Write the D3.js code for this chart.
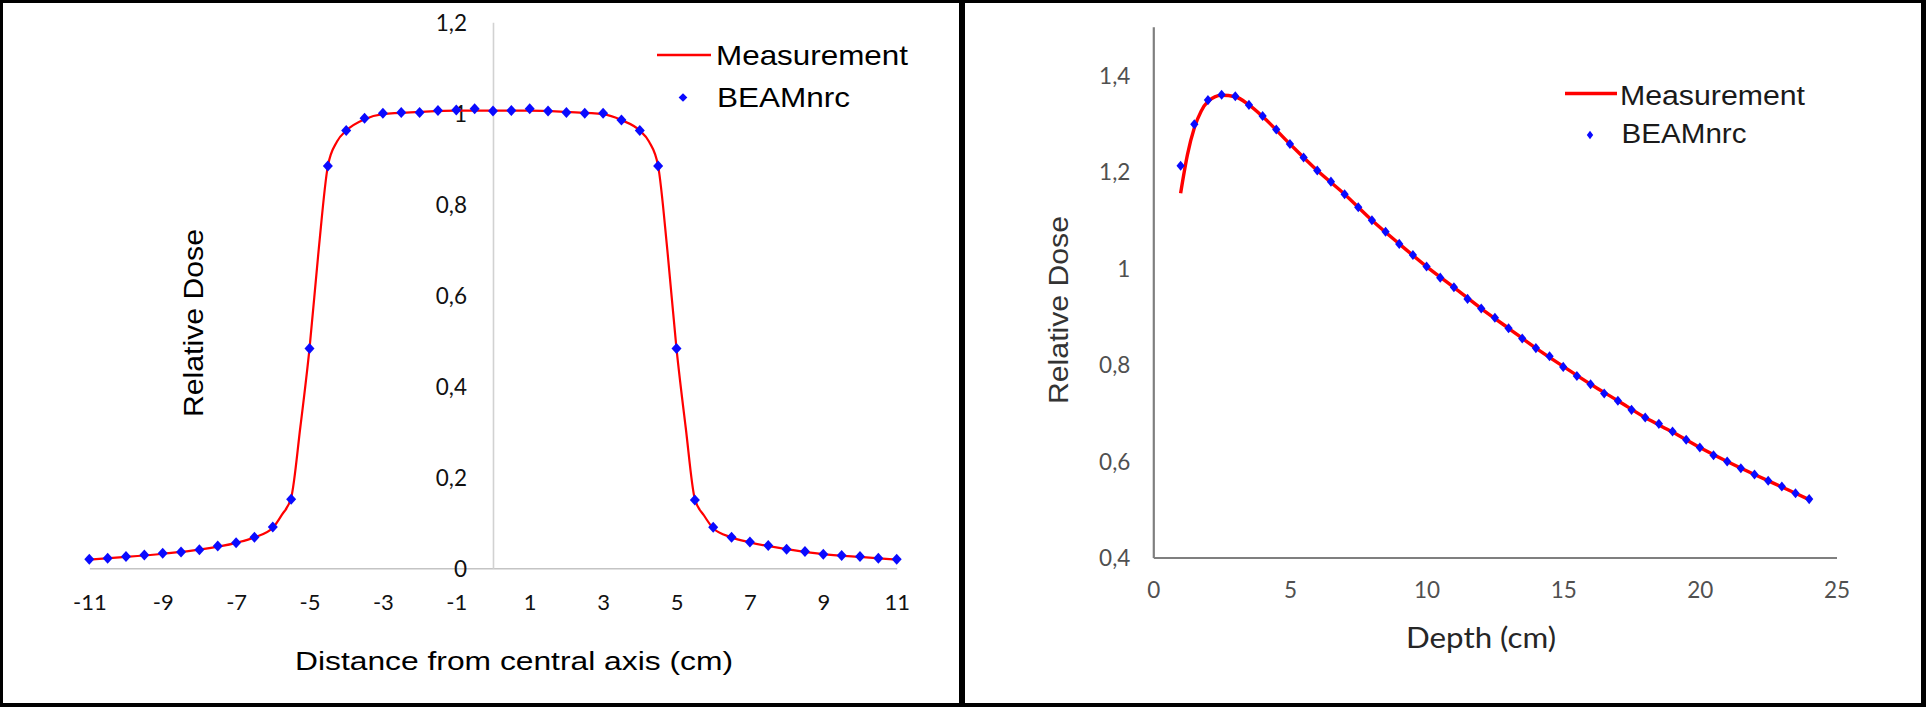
<!DOCTYPE html>
<html><head><meta charset="utf-8">
<script src="https://cdn.jsdelivr.net/npm/d3@7"></script>
<style>html,body{margin:0;padding:0;background:#fff;} svg{display:block;}</style>
</head><body>
<script>
// ---------- Left panel: beam profile ----------
const profileX = [-11,-10.5,-10,-9.5,-9,-8.5,-8,-7.5,-7,-6.5,-6,-5.5,-5,-4.5,-4,-3.5,-3,-2.5,-2,-1.5,-1,-0.5,0,0.5,1,1.5,2,2.5,3,3.5,4,4.5,5,5.5,6,6.5,7,7.5,8,8.5,9,9.5,10,10.5,11];
const profileBeam = [0.020,0.022,0.026,0.029,0.033,0.036,0.041,0.049,0.056,0.068,0.091,0.152,0.483,0.884,0.962,0.989,1.000,1.002,1.002,1.006,1.007,1.010,1.005,1.006,1.010,1.005,1.002,1.000,1.000,0.985,0.962,0.884,0.483,0.150,0.090,0.068,0.058,0.050,0.042,0.037,0.031,0.028,0.026,0.022,0.020];
const profileMeasX = [-11,-10,-9,-8,-7,-6.5,-6,-5.75,-5.5,-5.25,-5,-4.75,-4.5,-4.25,-4,-3.5,-3,-2,-1,0,1,2,3,3.5,4,4.25,4.5,4.75,5,5.25,5.5,5.75,6,6.5,7,8,9,10,11];
const profileMeas = [0.019,0.025,0.032,0.041,0.056,0.068,0.089,0.118,0.155,0.310,0.483,0.700,0.884,0.938,0.962,0.987,0.998,1.003,1.006,1.006,1.006,1.003,0.998,0.985,0.962,0.938,0.884,0.700,0.483,0.310,0.152,0.116,0.088,0.068,0.057,0.042,0.031,0.025,0.019];
const profileXTicks = [-11,-9,-7,-5,-3,-1,1,3,5,7,9,11];
const profileYTicks = [0,0.2,0.4,0.6,0.8,1,1.2];
const profileXTitle = "Distance from central axis (cm)";
const profileYTitle = "Relative Dose";

// ---------- Right panel: depth dose ----------
const depthX = [1,1.5,2,2.5,3,3.5,4,4.5,5,5.5,6,6.5,7,7.5,8,8.5,9,9.5,10,10.5,11,11.5,12,12.5,13,13.5,14,14.5,15,15.5,16,16.5,17,17.5,18,18.5,19,19.5,20,20.5,21,21.5,22,22.5,23,23.5,24];
const depthBeam = [1.212,1.298,1.348,1.359,1.356,1.338,1.315,1.287,1.257,1.229,1.202,1.179,1.153,1.126,1.099,1.075,1.050,1.027,1.003,0.980,0.960,0.936,0.916,0.897,0.875,0.854,0.834,0.817,0.795,0.776,0.759,0.740,0.725,0.706,0.690,0.677,0.661,0.644,0.628,0.612,0.599,0.585,0.572,0.559,0.547,0.533,0.521];
const depthMeasX = [1,1.25,1.5,1.75,2,2.5,3,3.5,4,5,6,7,8,9,10,11,12,13,14,15,16,17,18,19,20,21,22,23,24];
const depthMeas = [1.155,1.235,1.290,1.325,1.345,1.358,1.355,1.338,1.314,1.257,1.202,1.153,1.099,1.050,1.003,0.960,0.916,0.875,0.834,0.796,0.759,0.725,0.690,0.660,0.628,0.599,0.572,0.546,0.520];
const depthXTicks = [0,5,10,15,20,25];
const depthYTicks = [0.4,0.6,0.8,1,1.2,1.4];
const depthXTitle = "Depth (cm)";
const depthYTitle = "Relative Dose";

const seriesNames = ["Measurement","BEAMnrc"];
const RED = "#ff0000", BLUE = "#0a0aff";
const tickFont = "Lato, 'Open Sans', sans-serif";
const titleFont = "'Liberation Sans', Arial, sans-serif";
const comma = d => String(d).replace(".", ",");

const svg = d3.select("body").append("svg").attr("width",1926).attr("height",707);
svg.append("rect").attr("width",1926).attr("height",707).attr("fill","#fff");

// ============ LEFT ============
const xL = d3.scaleLinear().domain([-11,11]).range([89.3,896.7]);
const yL = d3.scaleLinear().domain([0,1.2]).range([568.3,22.3]);
const gL = svg.append("g");

const axXL = gL.append("g").attr("transform",`translate(0,${yL(0)})`)
  .call(d3.axisBottom(xL).tickValues(profileXTicks).tickSize(0).tickSizeOuter(0).tickFormat(d=>String(d)));
axXL.select(".domain").attr("stroke","#c4c4c4").attr("stroke-width",1.6);
axXL.selectAll("text").attr("y",33.4).attr("dy","0.36em").attr("font-family",tickFont).attr("font-size",22).attr("fill","#111");

const axYL = gL.append("g").attr("transform",`translate(${xL(0)},0)`)
  .call(d3.axisLeft(yL).tickValues(profileYTicks).tickSize(0).tickSizeOuter(0).tickPadding(26).tickFormat(comma));
axYL.select(".domain").attr("stroke","#d2d2d2").attr("stroke-width",1.6);
axYL.selectAll("text").attr("dy","0.36em").attr("font-family",tickFont).attr("font-size",22.5).attr("fill","#111");

gL.append("text").text(profileXTitle).attr("x",514).attr("y",661).attr("dy","0.36em")
  .attr("text-anchor","middle").attr("font-family",titleFont).attr("font-size",26)
  .attr("textLength",438).attr("lengthAdjust","spacingAndGlyphs").attr("fill","#000");
gL.append("text").text(profileYTitle).attr("transform","translate(193,323) rotate(-90)").attr("dy","0.36em")
  .attr("text-anchor","middle").attr("font-family",titleFont).attr("font-size",28)
  .attr("textLength",188).attr("lengthAdjust","spacingAndGlyphs").attr("fill","#000");

const lineL = d3.line().x(d=>xL(d[0])).y(d=>yL(d[1])).curve(d3.curveMonotoneX);
gL.append("path").datum(profileMeasX.map((x,i)=>[x,profileMeas[i]]))
  .attr("d",lineL).attr("fill","none").attr("stroke",RED).attr("stroke-width",2.2);

const diamond = d3.symbol().type(d3.symbolSquare);
gL.selectAll("path.pt").data(profileX.map((x,i)=>[x,profileBeam[i]])).join("path").attr("class","pt")
  .attr("d",diamond.size(50)())
  .attr("transform",d=>`translate(${xL(d[0])},${yL(d[1])}) scale(1,1.1) rotate(45)`)
  .attr("fill",BLUE);

// legend left
gL.append("line").attr("x1",657).attr("x2",711).attr("y1",55).attr("y2",55).attr("stroke",RED).attr("stroke-width",2.4);
gL.append("text").text(seriesNames[0]).attr("x",716).attr("y",55).attr("dy","0.36em")
  .attr("font-family",titleFont).attr("font-size",28).attr("textLength",192).attr("lengthAdjust","spacingAndGlyphs").attr("fill","#000");
gL.append("path").attr("d",d3.symbol().type(d3.symbolSquare).size(38)())
  .attr("transform","translate(683,97.5) rotate(45)").attr("fill",BLUE);
gL.append("text").text(seriesNames[1]).attr("x",717).attr("y",97).attr("dy","0.36em")
  .attr("font-family",titleFont).attr("font-size",28).attr("textLength",133).attr("lengthAdjust","spacingAndGlyphs").attr("fill","#000");

// ============ RIGHT ============
const xR = d3.scaleLinear().domain([0,25]).range([1153.3,1836.5]);
const yR = d3.scaleLinear().domain([0.4,1.5]).range([557.5,26.75]);
const gR = svg.append("g");

const axXR = gR.append("g").attr("transform",`translate(0,${yR(0.4)})`)
  .call(d3.axisBottom(xR).tickValues(depthXTicks).tickSize(0).tickSizeOuter(0).tickFormat(d=>String(d)));
axXR.select(".domain").attr("stroke","#7f7f7f").attr("stroke-width",2.2);
axXR.selectAll("text").attr("y",32.5).attr("dy","0.36em").attr("font-family",tickFont).attr("font-size",22.5).attr("fill","#505050");

const axYR = gR.append("g").attr("transform",`translate(${xR(0)},0)`)
  .call(d3.axisLeft(yR).tickValues(depthYTicks).tickSize(0).tickSizeOuter(0).tickPadding(23).tickFormat(comma));
axYR.select(".domain").attr("stroke","#7f7f7f").attr("stroke-width",2.2);
axYR.selectAll("text").attr("dy","0.36em").attr("font-family",tickFont).attr("font-size",22.5).attr("fill","#505050");

gR.append("text").text(depthXTitle).attr("x",1481).attr("y",638).attr("dy","0.36em")
  .attr("text-anchor","middle").attr("font-family",tickFont).attr("font-size",28)
  .attr("textLength",150).attr("lengthAdjust","spacingAndGlyphs").attr("fill","#262626");
gR.append("text").text(depthYTitle).attr("transform","translate(1058,310) rotate(-90)").attr("dy","0.36em")
  .attr("text-anchor","middle").attr("font-family",titleFont).attr("font-size",27)
  .attr("textLength",188).attr("lengthAdjust","spacingAndGlyphs").attr("fill","#333");

const lineR = d3.line().x(d=>xR(d[0])).y(d=>yR(d[1])).curve(d3.curveMonotoneX);
gR.append("path").datum(depthMeasX.map((x,i)=>[x,depthMeas[i]]))
  .attr("d",lineR).attr("fill","none").attr("stroke",RED).attr("stroke-width",3.4);

gR.selectAll("path.pt").data(depthX.map((x,i)=>[x,depthBeam[i]])).join("path").attr("class","pt")
  .attr("d",d3.symbol().type(d3.symbolSquare).size(42)())
  .attr("transform",d=>`translate(${xR(d[0])},${yR(d[1])}) scale(0.9,1.1) rotate(45)`)
  .attr("fill",BLUE);

// legend right
gR.append("line").attr("x1",1565).attr("x2",1617).attr("y1",93.5).attr("y2",93.5).attr("stroke",RED).attr("stroke-width",3.6);
gR.append("text").text(seriesNames[0]).attr("x",1620).attr("y",95).attr("dy","0.36em")
  .attr("font-family",titleFont).attr("font-size",27).attr("textLength",185).attr("lengthAdjust","spacingAndGlyphs").attr("fill","#1a1a1a");
gR.append("path").attr("d",d3.symbol().type(d3.symbolSquare).size(28)())
  .attr("transform","translate(1590,135) scale(0.85,1.15) rotate(45)").attr("fill",BLUE);
gR.append("text").text(seriesNames[1]).attr("x",1621.5).attr("y",133.5).attr("dy","0.36em")
  .attr("font-family",titleFont).attr("font-size",27).attr("textLength",125).attr("lengthAdjust","spacingAndGlyphs").attr("fill","#1a1a1a");

// ============ FRAME ============
const frame = svg.append("g").attr("fill","#000");
frame.append("rect").attr("x",0).attr("y",0).attr("width",1926).attr("height",3);
frame.append("rect").attr("x",0).attr("y",703).attr("width",1926).attr("height",4);
frame.append("rect").attr("x",0).attr("y",0).attr("width",3).attr("height",707);
frame.append("rect").attr("x",1921).attr("y",0).attr("width",5).attr("height",707);
frame.append("rect").attr("x",959).attr("y",0).attr("width",6).attr("height",707);
</script>
</body></html>
